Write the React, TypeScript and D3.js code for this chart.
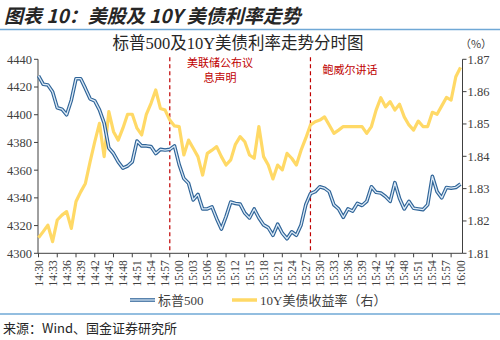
import React from 'react';
import * as d3 from 'd3';

// ---- data ----
const categories: string[] = (() => {
  const out: string[] = [];
  for (let m = 14 * 60 + 30; m <= 16 * 60; m++) {
    const h = Math.floor(m / 60);
    const mm = m % 60;
    out.push(`${h}:${mm < 10 ? '0' + mm : mm}`);
  }
  return out;
})();

const spx500: number[] = [
  4428, 4422, 4421.5, 4416.5, 4405, 4404, 4400, 4410.5, 4426, 4426,
  4419, 4411.5, 4410, 4403.5, 4394, 4376, 4372, 4366, 4361.5, 4363,
  4366, 4381, 4377.5, 4377.5, 4377, 4372, 4375, 4374.5, 4375, 4377.5,
  4364, 4354, 4350.5, 4338.5, 4342.5, 4332, 4332, 4333.5, 4325, 4317.5,
  4326.5, 4337, 4336, 4335.5, 4329, 4325.5, 4332, 4325.5, 4320.5, 4318.5,
  4313, 4321, 4314.5, 4310.5, 4315.5, 4313, 4320.5, 4335, 4343, 4344.5,
  4348, 4347, 4344.5, 4335, 4332, 4326, 4332, 4330.5, 4336, 4334.5,
  4337.5, 4348, 4344, 4343.5, 4341, 4337.5, 4351, 4339.5, 4332, 4337.5,
  4332.5, 4332, 4331.5, 4335, 4355.5, 4344.5, 4340, 4347.5, 4347, 4347.5,
  4350,
];

const ust10y: number[] = [
  1.8148, 1.8167, 1.8187, 1.8136, 1.8203, 1.8218, 1.8229, 1.8177, 1.826, 1.829,
  1.8316, 1.8383, 1.8445, 1.8502, 1.8399, 1.8538, 1.8476, 1.845, 1.8487, 1.853,
  1.853, 1.8487, 1.8466, 1.853, 1.8564, 1.8605, 1.8548, 1.8543, 1.8512, 1.8494,
  1.8492, 1.8404, 1.845, 1.8425, 1.8399, 1.8342, 1.8409, 1.8419, 1.843, 1.8399,
  1.8373, 1.8389, 1.8437, 1.8461, 1.8445, 1.8404, 1.8394, 1.8492, 1.8399, 1.8373,
  1.833, 1.8373, 1.8358, 1.8409, 1.8394, 1.8373, 1.8419, 1.8456, 1.8497, 1.8507,
  1.8512, 1.8522, 1.8497, 1.8471, 1.8481, 1.8492, 1.8492, 1.8492, 1.8492, 1.8492,
  1.8471, 1.8492, 1.8543, 1.8581, 1.8553, 1.8569, 1.8543, 1.8561, 1.8522, 1.8497,
  1.8481, 1.8509, 1.8492, 1.8492, 1.8536, 1.853, 1.8556, 1.8582, 1.8574, 1.8646,
  1.8675,
];

const xTickLabels: string[] = [
  '14:30', '14:33', '14:36', '14:39', '14:42', '14:45', '14:48', '14:51', '14:54', '14:57',
  '15:00', '15:03', '15:06', '15:09', '15:12', '15:15', '15:18', '15:21', '15:24', '15:27',
  '15:30', '15:33', '15:36', '15:39', '15:42', '15:45', '15:48', '15:51', '15:54', '15:57',
  '16:00',
];
const leftTicks: number[] = [4300, 4320, 4340, 4360, 4380, 4400, 4420, 4440];
const rightTicks: number[] = [1.81, 1.82, 1.83, 1.84, 1.85, 1.86, 1.87];

const events: { time: string; lines: string[] }[] = [
  { time: '14:58', lines: ['美联储公布议', '息声明'] },
  { time: '15:28', lines: ['鲍威尔讲话'] },
];

const seriesNames = ['标普500', '10Y美债收益率（右）'];

// ---- layout ----
const W = 500;
const H = 340;
const plotLeft = 38;
const plotRight = 462.5;
const plotTop = 59.3;
const plotBottom = 253.3;

const SERIF = "'Liberation Serif', 'Times New Roman', 'Noto Sans CJK SC', serif";
const CJK = "'Noto Sans CJK SC', 'Liberation Serif', sans-serif";

export default function App() {
  const x = d3.scalePoint<string>().domain(categories).range([38.5, 460.5]);
  const yL = d3.scaleLinear().domain([4300, 4440]).range([plotBottom, plotTop]);
  const yR = d3.scaleLinear().domain([1.81, 1.87]).range([plotBottom, plotTop]);

  const lineL = d3
    .line<number>()
    .x((_, i) => x(categories[i]) as number)
    .y((d) => yL(d))
    .curve(d3.curveLinear);
  const lineR = d3
    .line<number>()
    .x((_, i) => x(categories[i]) as number)
    .y((d) => yR(d));

  const tickMarkCats = categories.filter((_, i) => i % 4 === 0);

  const blueOuter = '#2F6498';
  const blueInner = '#DCEAF6';
  const yellow = '#FFD966';
  const red = '#C00000';
  const axisColor = '#404040';
  const textColor = '#404040';

  return (
    <svg
      width={W}
      height={H}
      style={{ position: 'absolute', left: 0, top: 0, background: '#fff' }}
    >
      <rect x={0} y={0} width={W} height={H} fill="#fff" />
      {/* header */}
      <text
        x={4}
        y={22.5}
        fontFamily={CJK}
        fontSize={19}
        fontWeight="bold"
        fontStyle="italic"
        fill="#262626"
      >
        图表 10：美股及 10Y 美债利率走势
      </text>
      <line x1={0} x2={W} y1={29.5} y2={29.5} stroke="#6FA8D6" strokeWidth={1.5} />

      {/* chart title */}
      <text
        x={238}
        y={49}
        textAnchor="middle"
        fontFamily={SERIF}
        fontSize={16.5}
        fill="#262626"
      >
        标普500及10Y美债利率走势分时图
      </text>
      <text x={476} y={48} textAnchor="middle" fontFamily={CJK} fontSize={11} fill={textColor}>
        （%）
      </text>

      {/* axes */}
      <line x1={plotLeft} x2={plotLeft} y1={plotTop} y2={plotBottom} stroke={axisColor} strokeWidth={1} />
      <line x1={plotRight} x2={plotRight} y1={plotTop} y2={plotBottom} stroke={axisColor} strokeWidth={1} />
      <line x1={plotLeft} x2={plotRight} y1={plotBottom} y2={plotBottom} stroke={axisColor} strokeWidth={1} />

      {leftTicks.map((t) => (
        <g key={'l' + t}>
          <line x1={plotLeft - 4} x2={plotLeft} y1={yL(t)} y2={yL(t)} stroke={axisColor} />
          <text
            x={plotLeft - 6}
            y={yL(t)}
            dy="0.35em"
            textAnchor="end"
            fontFamily={SERIF}
            fontSize={12.5}
            fill={textColor}
          >
            {t}
          </text>
        </g>
      ))}
      {rightTicks.map((t) => (
        <g key={'r' + t}>
          <line x1={plotRight} x2={plotRight + 4} y1={yR(t)} y2={yR(t)} stroke={axisColor} />
          <text
            x={plotRight + 5}
            y={yR(t)}
            dy="0.35em"
            textAnchor="start"
            fontFamily={SERIF}
            fontSize={12.5}
            fill={textColor}
          >
            {t.toFixed(2)}
          </text>
        </g>
      ))}
      {tickMarkCats.map((c) => (
        <line
          key={'tm' + c}
          x1={x(c)}
          x2={x(c)}
          y1={plotBottom}
          y2={plotBottom + 4}
          stroke={axisColor}
        />
      ))}
      {xTickLabels.map((c) => {
        const px = x(c) as number;
        const py = plotBottom + 7;
        return (
          <text
            key={'xt' + c}
            x={px}
            y={py}
            transform={`rotate(-90 ${px} ${py})`}
            textAnchor="end"
            dy="0.35em"
            fontFamily={SERIF}
            fontSize={11.5}
            fill={textColor}
          >
            {c}
          </text>
        );
      })}

      {/* event lines */}
      {events.map((e) => (
        <line
          key={'ev' + e.time}
          x1={x(e.time)}
          x2={x(e.time)}
          y1={plotTop - 2}
          y2={plotBottom}
          stroke={red}
          strokeWidth={1.2}
          strokeDasharray="4 3"
        />
      ))}
      <text x={220} y={63.5} dy="0.35em" textAnchor="middle" fontFamily={CJK} fontSize={11} fill={red}>
        {events[0].lines[0]}
      </text>
      <text x={220} y={78} dy="0.35em" textAnchor="middle" fontFamily={CJK} fontSize={11} fill={red}>
        {events[0].lines[1]}
      </text>
      <text x={350} y={70} dy="0.35em" textAnchor="middle" fontFamily={CJK} fontSize={11} fill={red}>
        {events[1].lines[0]}
      </text>

      {/* series */}
      <path d={lineR(ust10y) || ''} fill="none" stroke={yellow} strokeWidth={3.2} strokeLinejoin="round" />
      <path d={lineL(spx500) || ''} fill="none" stroke={blueOuter} strokeWidth={3.6} strokeLinejoin="round" />
      <path d={lineL(spx500) || ''} fill="none" stroke={blueInner} strokeWidth={1.3} strokeLinejoin="round" />

      {/* legend */}
      <line x1={130} x2={155} y1={300} y2={300} stroke={blueOuter} strokeWidth={3.6} />
      <line x1={130} x2={155} y1={300} y2={300} stroke={blueInner} strokeWidth={1.3} />
      <text x={158} y={300} dy="0.35em" fontFamily={SERIF} fontSize={13} fill={textColor}>
        {seriesNames[0]}
      </text>
      <line x1={232} x2={257} y1={300} y2={300} stroke={yellow} strokeWidth={3.5} />
      <text x={260} y={300} dy="0.35em" fontFamily={SERIF} fontSize={13} fill={textColor}>
        {seriesNames[1]}
      </text>

      {/* footer */}
      <line x1={0} x2={W} y1={314} y2={314} stroke="#6FA8D6" strokeWidth={1.5} />
      <text x={3} y={328} dy="0.35em" fontFamily={CJK} fontSize={13} fill="#262626">
        来源：Wind、国金证券研究所
      </text>
    </svg>
  );
}
